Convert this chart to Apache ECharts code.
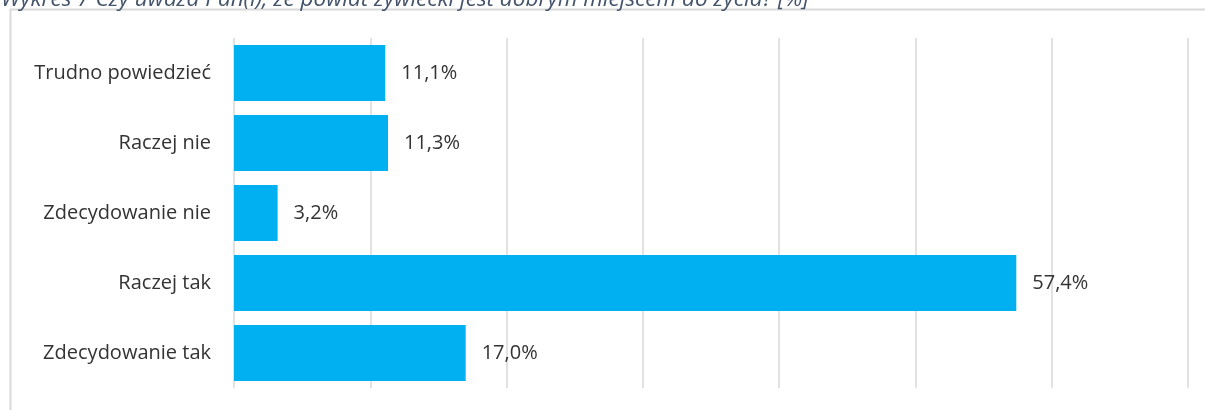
<!DOCTYPE html>
<html>
<head>
<meta charset="utf-8">
<script src="https://cdn.jsdelivr.net/npm/echarts@6/dist/echarts.min.js"></script>
<style>
  html, body { margin: 0; padding: 0; background: #fff; }
  #chart { width: 1205px; height: 410px; }
</style>
</head>
<body>
<div id="chart"></div>
<script>
// dane wykresu
const titleText = 'Wykres 7 Czy uważa Pan(i), że powiat żywiecki jest dobrym miejscem do życia? [%]'
const categories = ['Trudno powiedzieć', 'Raczej nie', 'Zdecydowanie nie', 'Raczej tak', 'Zdecydowanie tak']
const values = [11.1, 11.3, 3.2, 57.4, 17.0]
const axisMin = 0
const axisMax = 70
const axisStep = 10

const chart = echarts.init(document.getElementById('chart'))

const fmt = v => v.toFixed(1).replace('.', ',') + '%'

chart.setOption({
  animation: false,
  title: {
    text: titleText,
    left: -4,
    top: -17,
    textStyle: {
      color: '#44546a',
      fontFamily: 'Open Sans',
      fontStyle: 'italic',
      fontWeight: 'normal',
      fontSize: 22.5
    }
  },
  graphic: [{
    type: 'rect',
    shape: { x: 10.5, y: 9.5, width: 1400, height: 600 },
    style: { fill: 'none', stroke: '#d9d9d9', lineWidth: 2 },
    silent: true,
    z: -1
  }],
  grid: {
    left: 234,
    right: 17,
    top: 38,
    bottom: 22
  },
  xAxis: {
    type: 'value',
    min: axisMin,
    max: axisMax,
    interval: axisStep,
    axisLabel: { show: false },
    axisLine: { show: false },
    axisTick: { show: false },
    splitLine: { lineStyle: { color: '#d9d9d9', width: 1.5 } }
  },
  yAxis: {
    type: 'category',
    inverse: true,
    data: categories,
    axisLine: { show: false },
    axisTick: { show: false },
    axisLabel: {
      margin: 23,
      color: '#333333',
      fontFamily: 'Open Sans',
      fontSize: 20
    }
  },
  series: [{
    type: 'bar',
    data: values,
    barCategoryGap: '20%',
    itemStyle: { color: '#00b0f0' },
    label: {
      show: true,
      position: 'right',
      distance: 16,
      color: '#333333',
      fontFamily: 'Open Sans',
      fontSize: 20,
      formatter: p => fmt(p.value)
    }
  }]
})

window.addEventListener('resize', () => {
  chart.resize()
})
</script>
</body>
</html>
